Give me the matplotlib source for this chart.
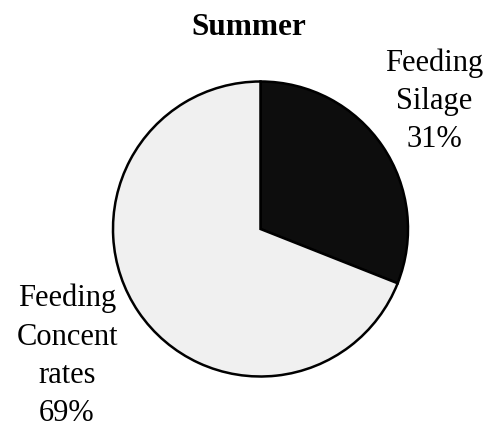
import matplotlib
matplotlib.use("Agg")
import matplotlib.pyplot as plt

# data
categories = ["Feeding\nSilage", "Feeding\nConcent\nrates"]
shares = [31, 69]
slice_colors = ["#0d0d0d", "#f0f0f0"]
title = "Summer"

plt.rcParams["font.family"] = ["Liberation Serif", "DejaVu Serif"]

W, H = 498, 427
fig = plt.figure(figsize=(W / 100, H / 100), dpi=100)

# pie sits in a square axes: centre ~ (260.5, 230) px, radius ~147.5 px
cx, cy, r = 260.5, 230.0, 147.5
ax = fig.add_axes([(cx - r) / W, (H - cy - r) / H, 2 * r / W, 2 * r / H])
ax.pie(shares, colors=slice_colors, startangle=90, counterclock=False,
       radius=1.0, wedgeprops=dict(edgecolor="black", linewidth=1.8))
ax.set_xlim(-1.0, 1.0)
ax.set_ylim(-1.0, 1.0)
ax.set_aspect("equal")
ax.axis("off")

labels = [f"{c}\n{v}%" for c, v in zip(categories, shares)]

# label positions in pixels (x centre, baseline of the last line)
fig.text(434.5 / W, 1 - 147 / H, labels[0], ha="center", va="baseline",
         fontsize=22, linespacing=1.42)
fig.text(67 / W, 1 - 421 / H, labels[1], ha="center", va="baseline",
         fontsize=22, linespacing=1.42)

fig.text(249 / W, 1 - 35 / H, title, ha="center", va="baseline",
         fontsize=22.5, fontweight="bold")

fig.savefig("out.png", dpi=100)
